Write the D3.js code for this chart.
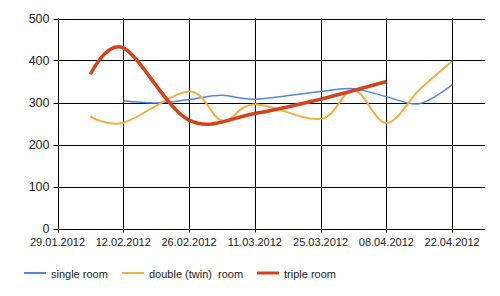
<!DOCTYPE html>
<html>
<head>
<meta charset="utf-8">
<script src="https://cdn.jsdelivr.net/npm/d3@7"></script>
<style>
  body { margin: 0; background: #fff; }
  text { font-family: Arial, "Liberation Sans", sans-serif; fill: #222; }
</style>
</head>
<body>
<svg id="chart" width="500" height="296"></svg>
<script>
var parse = d3.timeParse('%d.%m.%Y');

// x ticks and y ticks
var xTicks = ['29.01.2012', '12.02.2012', '26.02.2012', '11.03.2012', '25.03.2012', '08.04.2012', '22.04.2012'];
var yTicks = [0, 100, 200, 300, 400, 500];

// single room
var singleDates = ['12.02.2012', '19.02.2012', '26.02.2012', '04.03.2012', '11.03.2012', '25.03.2012', '01.04.2012', '08.04.2012', '15.04.2012', '22.04.2012'];
var singleValues = [304, 299, 307, 317, 308, 326, 333, 314, 297, 342];

// double (twin) room
var doubleDates = ['05.02.2012', '12.02.2012', '26.02.2012', '04.03.2012', '11.03.2012', '25.03.2012', '01.04.2012', '08.04.2012', '15.04.2012', '22.04.2012'];
var doubleValues = [267, 252, 326, 257, 296, 261, 330, 251, 330, 398];

// triple room
var tripleDates = ['05.02.2012', '12.02.2012', '26.02.2012', '11.03.2012', '25.03.2012', '08.04.2012'];
var tripleValues = [367, 430, 258, 274, 308, 350];

var seriesNames = ['single room', 'double (twin)  room', 'triple room'];
var seriesColors = ['#5088dc', '#f5b041', '#d4431a'];
var seriesWidths = [1.5, 2, 3.5];

function pairs(dates, vals) {
    return dates.map(function (d, i) { return { date: parse(d), value: vals[i] }; });
}

var series = [
    pairs(singleDates, singleValues),
    pairs(doubleDates, doubleValues),
    pairs(tripleDates, tripleValues)
];

var svg = d3.select('#chart');
var plotL = 57.5, plotR = 485, plotT = 18.5, plotB = 228.5;

var x = d3.scaleTime()
    .domain([parse('29.01.2012'), parse('29.04.2012')])
    .range([plotL, plotR]);
var y = d3.scaleLinear().domain([0, 500]).range([plotB, plotT]);

// grid
var grid = svg.append('g').attr('stroke', '#000').attr('stroke-width', 1);
grid.selectAll('line.h').data(yTicks).enter().append('line')
    .attr('x1', plotL - 4).attr('x2', plotR)
    .attr('y1', function (d) { return Math.round(y(d)) + 0.5; })
    .attr('y2', function (d) { return Math.round(y(d)) + 0.5; });
grid.selectAll('line.v').data(xTicks).enter().append('line')
    .attr('x1', function (d) { return Math.round(x(parse(d))) + 0.5; })
    .attr('x2', function (d) { return Math.round(x(parse(d))) + 0.5; })
    .attr('y1', plotT).attr('y2', plotB + 4);

// axis labels
svg.selectAll('text.y').data(yTicks).enter().append('text')
    .attr('x', plotL - 8).attr('y', function (d) { return y(d) + 4.5; })
    .attr('text-anchor', 'end').attr('font-size', 12.5)
    .text(function (d) { return d; });
svg.selectAll('text.x').data(xTicks).enter().append('text')
    .attr('x', function (d) { return x(parse(d)); }).attr('y', 246)
    .attr('text-anchor', 'middle').attr('font-size', 11)
    .text(function (d) { return d; });

// lines
var line = d3.line()
    .x(function (d) { return x(d.date); })
    .y(function (d) { return y(d.value); })
    .curve(d3.curveCatmullRom.alpha(0));

svg.selectAll('path.series').data(series).enter().append('path')
    .attr('fill', 'none')
    .attr('stroke', function (d, i) { return seriesColors[i]; })
    .attr('stroke-width', function (d, i) { return seriesWidths[i]; })
    .attr('stroke-linejoin', 'round')
    .attr('d', line);

// legend
var legendX = [24, 122, 257];
var legend = svg.selectAll('g.legend').data(seriesNames).enter().append('g')
    .attr('transform', function (d, i) { return 'translate(' + legendX[i] + ',273)'; });
legend.append('line')
    .attr('x1', 0).attr('x2', 22).attr('y1', 0).attr('y2', 0)
    .attr('stroke', function (d, i) { return seriesColors[i]; })
    .attr('stroke-width', function (d, i) { return i === 2 ? 3 : 2; });
legend.append('text')
    .attr('x', 27).attr('y', 4.5).attr('font-size', 11)
    .style('white-space', 'pre').attr('xml:space', 'preserve')
    .text(function (d) { return d; });
</script>
</body>
</html>
